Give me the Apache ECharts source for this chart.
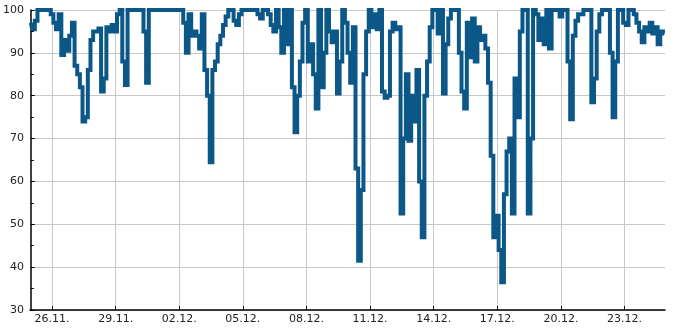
<!DOCTYPE html>
<html>
<head>
<meta charset="utf-8">
<script src="https://cdn.jsdelivr.net/npm/echarts@6/dist/echarts.min.js"></script>
<style>html,body{margin:0;padding:0;background:#fff}#c{width:685px;height:330px}</style>
</head>
<body>
<div id="c"></div>
<script>
// samples every 3 hours starting 25.11. 00:00 (x in days since then)
const sampleStepDays = 0.125;
const values = [
 97,95.5,97.5,100,100,100,100,100,
 99,97,95.5,99,89.5,93,90.5,94,
 97,87,85,82,74,75,86,93,
 95,95,95.7,81,84,96,95,96.5,
 95,99,100,88,82.5,100,100,100,
 100,100,100,95,83,100,100,100,
 100,100,100,100,100,100,100,100,
 100,100,97,90,99,94,95,94,
 91,99,86,80,64.5,86,88,92,
 94,96.5,98.5,100,100,97.5,96.5,99,
 100,100,100,100,100,100,99,98,
 100,100,99,96.5,95,100,96,90,
 100,92,100,82,71.5,80,88,97,
 100,88,92,85,77,100,82,90,
 100,95,92.5,95,80.5,88,100,97,
 90,83,96,63,41.5,58,85,95,
 100,96,99,95.5,100,81,79.5,80,
 95,97,95.5,96,52.5,70,85,69.5,
 80,74,86,60,47,80,88,96,
 100,100,94.5,100,80.5,92,98,100,
 100,100,90,81,77,97,89,98,
 88,96,93,94,91,83,66,47,
 52,44,36.5,57,67,70,52.5,84,
 75,95,100,100,52.5,70,100,99,
 93,98,92,100,91,100,100,100,
 98.5,100,100,88,74.5,94,97.5,99,
 99,100,100,100,78.5,84,95,99,
 100,100,100,90,75,88,100,100,
 97,96.5,100,100,99,97,95,92.5,
 96,95,97,94.5,96,92,95,94.5
];
const tickDays = [1,4,7,10,13,16,19,22,25,28];
const tickLabels = ['26.11.','29.11.','02.12.','05.12.','08.12.','11.12.','14.12.','17.12.','20.12.','23.12.'];
const yTicks = [30,40,50,60,70,80,90,100];

const data = values.map((v,i)=>[i*sampleStepDays, v]);
const font = 'DejaVu Sans';
const chart = echarts.init(document.getElementById('c'), null, {renderer:'canvas'});
chart.setOption({
  animation:false,
  backgroundColor:'#fff',
  grid:{left:30,right:20,top:10,bottom:20,containLabel:false},
  xAxis:{
    type:'value', min:-0.04, max:29.91,
    axisLine:{show:true,onZero:false,lineStyle:{color:'#000',width:1.5}},
    axisTick:{show:true,inside:true,length:4,customValues:tickDays,lineStyle:{color:'#000'}},
    axisLabel:{customValues:tickDays,margin:4,fontFamily:font,fontSize:11,color:'#222',
      formatter:(v)=>{const k=tickDays.indexOf(Math.round(v));return k>=0?tickLabels[k]:'';}},
    splitLine:{show:true,lineStyle:{color:'#c8c8c8',width:1}}
  },
  yAxis:{
    type:'value', min:yTicks[0], max:yTicks[yTicks.length-1], interval:10,
    axisLine:{show:true,lineStyle:{color:'#000',width:1.5}},
    axisTick:{show:true,inside:true,length:4,lineStyle:{color:'#000'}},
    minorTick:{show:true,splitNumber:2,length:3,lineStyle:{color:'#000'}},
    axisLabel:{margin:6,fontFamily:font,fontSize:11,color:'#222'},
    splitLine:{show:true,lineStyle:{color:'#c8c8c8',width:1}}
  },
  series:[{
    type:'line', data:data, step:'middle', showSymbol:false, symbol:'none',
    lineStyle:{color:'#0b5788',width:4,join:'miter',cap:'butt'},
    clip:true
  }]
});
</script>
</body>
</html>
